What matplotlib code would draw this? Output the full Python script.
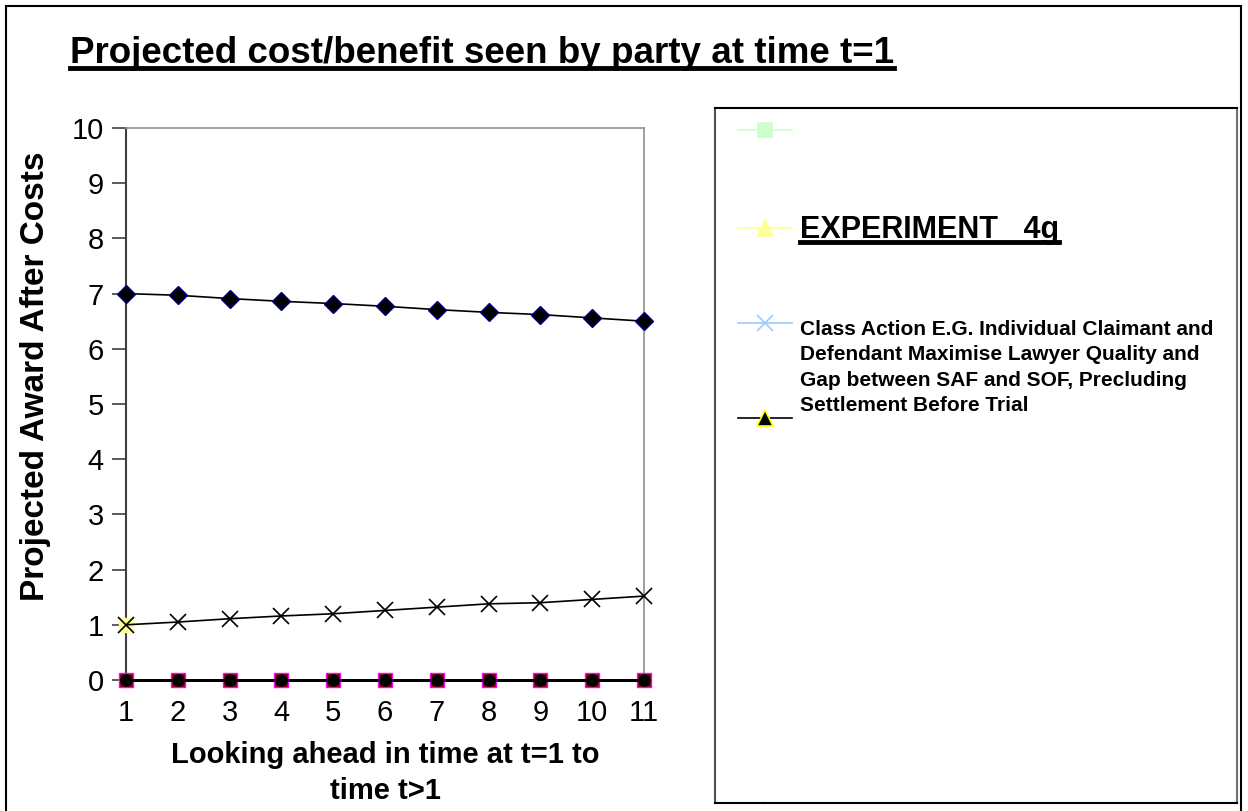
import matplotlib
matplotlib.use("Agg")
import matplotlib.pyplot as plt
from matplotlib.lines import Line2D
from matplotlib.patches import Rectangle

plt.rcParams['font.family'] = ['Liberation Sans', 'DejaVu Sans']

# data
steps = [1, 2, 3, 4, 5, 6, 7, 8, 9, 10, 11]
award_top = [7.0, 6.97, 6.91, 6.86, 6.82, 6.77, 6.71, 6.66, 6.62, 6.56, 6.5]
award_class = [1.0, 1.05, 1.11, 1.16, 1.2, 1.26, 1.32, 1.38, 1.4, 1.46, 1.52]
award_zero = [0, 0, 0, 0, 0, 0, 0, 0, 0, 0, 0]
exp_x = [1]
exp_y = [1]
yticks = [0, 1, 2, 3, 4, 5, 6, 7, 8, 9, 10]

title = "Projected cost/benefit seen by party at time t=1"
xlabel = "Looking ahead in time at t=1 to\ntime t>1"
ylabel = "Projected Award After Costs"
legend_labels = ["", "EXPERIMENT   4g",
                 "Class Action E.G. Individual Claimant and\n"
                 "Defendant Maximise Lawyer Quality and\n"
                 "Gap between SAF and SOF, Precluding\n"
                 "Settlement Before Trial", "", ""]

W, H = 1248, 811
fig = plt.figure(figsize=(W / 100, H / 100), dpi=100)


def fx(px):
    return px / W


def fy(py):
    return 1 - py / H


# outer frame
fig.patches.append(Rectangle((fx(6), fy(815)), fx(1241) - fx(6), fy(6) - fy(815),
                             transform=fig.transFigure, fill=False,
                             edgecolor="black", lw=1.5))

ax = fig.add_axes([fx(126), fy(680), fx(644) - fx(126), fy(128) - fy(680)])
ax.plot(steps, award_zero, color="black", lw=2, marker="^", ms=9,
        mfc="black", mec="#cccc00", zorder=3, clip_on=False)
ax.plot(steps, award_zero, color="black", lw=2, marker="s", ms=10,
        mfc="#800000", mec="#ff00ff", zorder=4, clip_on=False)
ax.plot(steps, award_zero, color="black", lw=2, marker="o", ms=8,
        mfc="black", mec="black", zorder=5, clip_on=False)
ax.plot(exp_x, exp_y, ls="none", marker="s", ms=10, mfc="#ffff99",
        mec="#ffff99", zorder=3, clip_on=False)
ax.plot(steps, award_class, color="black", lw=1.2, marker="x", ms=12,
        mew=1.2, zorder=4, clip_on=False)
ax.plot(steps, award_top, color="black", lw=1.2, marker="D", ms=9,
        mfc="black", mec="#000080", zorder=4, clip_on=False)

ax.set_xlim(1, 11)
ax.set_ylim(0, 10)
ax.set_xticks(steps)
ax.set_yticks(yticks)
ax.tick_params(axis="y", direction="out", length=10, width=1.2, labelsize=21,
               pad=6, color="#404040")
ax.tick_params(axis="x", direction="out", length=5, width=1.2, labelsize=21,
               pad=9, color="#404040")
for side in ["top", "right"]:
    ax.spines[side].set_color("#909090")
    ax.spines[side].set_linewidth(1.2)
ax.spines["left"].set_color("#404040")
ax.spines["left"].set_linewidth(1.5)
ax.spines["bottom"].set_color("black")
ax.set_xlabel(xlabel, fontsize=21, fontweight="bold", linespacing=1.35, labelpad=10)
ax.set_ylabel(ylabel, fontsize=24, fontweight="bold")
ax.yaxis.set_label_coords(-0.145, 0.551)

ttl = fig.text(fx(70), fy(63), title, fontsize=26.5, fontweight="bold",
               ha="left", va="baseline")

# legend box
lax = fig.add_axes([fx(715), fy(803), fx(1237) - fx(715), fy(108) - fy(803)])
lax.set_xlim(715, 1237)
lax.set_ylim(803, 108)
lax.set_xticks([])
lax.set_yticks([])
for side in lax.spines.values():
    side.set_color("black")
    side.set_linewidth(1.5)
lax.spines["left"].set_color("#505050")
lax.spines["right"].set_color("#707070")

handles = [
    dict(y=130, color="#ccffcc", marker="s", mfc="#ccffcc", mec="#ccffcc", ms=10),
    dict(y=228, color="#ffff99", marker="^", mfc="#ffff99", mec="#ffff99", ms=11),
    dict(y=323, color="#99ccff", marker="x", mfc="#99ccff", mec="#99ccff", ms=11),
    dict(y=418, color="black", marker="^", mfc="black", mec="#ffff00", ms=11),
    dict(y=809, color="#ccffff", marker="^", mfc="#ccffff", mec="#ccffff", ms=11),
]
for h in handles:
    lax.plot([738, 792], [h["y"], h["y"]], color=h["color"], lw=1.2)
    lax.plot([765], [h["y"]], ls="none", marker=h["marker"], ms=h["ms"],
             mfc=h["mfc"], mec=h["mec"], mew=1.2)

exp_txt = lax.text(800, 238, legend_labels[1], fontsize=22, fontweight="bold",
                   ha="left", va="baseline")
lax.text(800, 320, legend_labels[2], fontsize=15, fontweight="bold",
         ha="left", va="top", linespacing=1.42)

# underline the title and the experiment label (just under the baseline)
fig.canvas.draw()
renderer = fig.canvas.get_renderer()
for t, base_y, lw in [(ttl, 67.5, 3.5), (exp_txt, 242, 3.5)]:
    bb = t.get_window_extent(renderer).transformed(fig.transFigure.inverted())
    fig.lines.append(Line2D([bb.x0, bb.x1], [fy(base_y), fy(base_y)],
                            transform=fig.transFigure, color="black", lw=lw))

fig.savefig("out.png", dpi=100)
